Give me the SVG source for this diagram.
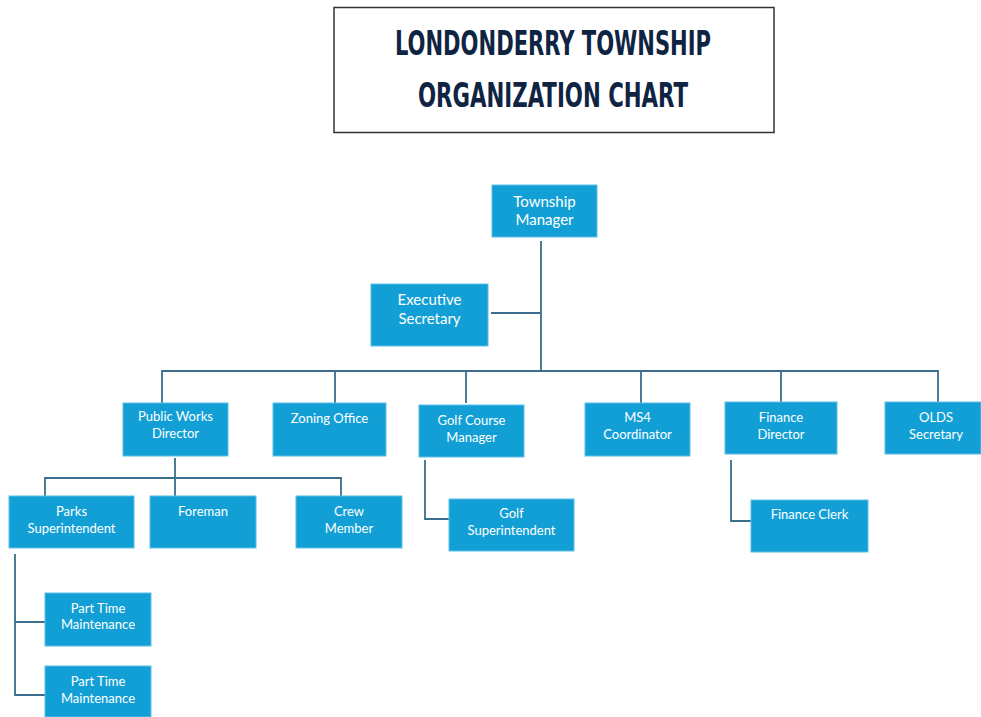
<svg xmlns="http://www.w3.org/2000/svg" width="981" height="717" viewBox="0 0 981 717">
<style>
.box{fill:#129fd6;stroke:#5cc0e6;stroke-width:1}
.t{font-family:Lato,"Open Sans",sans-serif;font-size:13px;fill:#ffffff;text-anchor:middle}
.tl{font-size:15px}
.c{fill:none;stroke:#3b6e8c;stroke-width:1.8}
.title{font-family:"DejaVu Sans",sans-serif;font-weight:bold;font-stretch:condensed;font-size:33px;fill:#0f2443;text-anchor:middle}
</style>
<rect width="981" height="717" fill="#ffffff"/>
<g id="title">
<rect x="334" y="7.5" width="440" height="125" fill="#ffffff" stroke="#333333" stroke-width="1.5"/>
<text class="title" x="553" y="55" textLength="316" lengthAdjust="spacingAndGlyphs">LONDONDERRY TOWNSHIP</text>
<text class="title" x="553" y="107" textLength="270" lengthAdjust="spacingAndGlyphs">ORGANIZATION CHART</text>
</g>
<g id="connectors">
<path class="c" d="M541 241V371M491 313H541"/>
<path class="c" d="M162 403V371H938V403M335 371V403M466 371V403M641 371V403M781 371V403"/>
<path class="c" d="M175 458V496M45 496V478H341V496"/>
<path class="c" d="M15 554V695H45M15 622H45"/>
<path class="c" d="M425 460V519H449"/>
<path class="c" d="M731 460V521H751"/>
</g>
<g id="township-manager"><rect class="box" x="492" y="185" width="105" height="52"/><text class="t tl" x="544.5" y="207">Township</text><text class="t tl" x="544.5" y="225">Manager</text></g>
<g id="executive-secretary"><rect class="box" x="371" y="284" width="117" height="62"/><text class="t tl" x="429.5" y="305">Executive</text><text class="t tl" x="429.5" y="324">Secretary</text></g>
<g id="public-works-director"><rect class="box" x="123" y="403" width="105" height="53"/><text class="t" x="175.5" y="421">Public Works</text><text class="t" x="175.5" y="438">Director</text></g>
<g id="zoning-office"><rect class="box" x="273" y="403" width="113" height="53"/><text class="t" x="329.5" y="423">Zoning Office</text></g>
<g id="golf-course-manager"><rect class="box" x="419" y="405" width="105" height="52"/><text class="t" x="471.5" y="425">Golf Course</text><text class="t" x="471.5" y="442">Manager</text></g>
<g id="ms4-coordinator"><rect class="box" x="585" y="403" width="105" height="53"/><text class="t" x="637.5" y="422">MS4</text><text class="t" x="637.5" y="439">Coordinator</text></g>
<g id="finance-director"><rect class="box" x="725" y="402" width="112" height="52"/><text class="t" x="781" y="422">Finance</text><text class="t" x="781" y="439">Director</text></g>
<g id="olds-secretary"><rect class="box" x="885" y="402" width="96" height="52"/><text class="t" x="936" y="422">OLDS</text><text class="t" x="936" y="439">Secretary</text></g>
<g id="parks-superintendent"><rect class="box" x="9" y="496" width="125" height="52"/><text class="t" x="71.5" y="516">Parks</text><text class="t" x="71.5" y="533">Superintendent</text></g>
<g id="foreman"><rect class="box" x="150" y="496" width="106" height="52"/><text class="t" x="203" y="516">Foreman</text></g>
<g id="crew-member"><rect class="box" x="296" y="496" width="106" height="52"/><text class="t" x="349" y="516">Crew</text><text class="t" x="349" y="533">Member</text></g>
<g id="golf-superintendent"><rect class="box" x="449" y="499" width="125" height="52"/><text class="t" x="511.5" y="518">Golf</text><text class="t" x="511.5" y="535">Superintendent</text></g>
<g id="finance-clerk"><rect class="box" x="751" y="500" width="117" height="52"/><text class="t" x="809.5" y="519">Finance Clerk</text></g>
<g id="part-time-maintenance-1"><rect class="box" x="45" y="593" width="106" height="53"/><text class="t" x="98" y="613">Part Time</text><text class="t" x="98" y="629">Maintenance</text></g>
<g id="part-time-maintenance-2"><rect class="box" x="45" y="666" width="106" height="51"/><text class="t" x="98" y="686">Part Time</text><text class="t" x="98" y="703">Maintenance</text></g>
</svg>
